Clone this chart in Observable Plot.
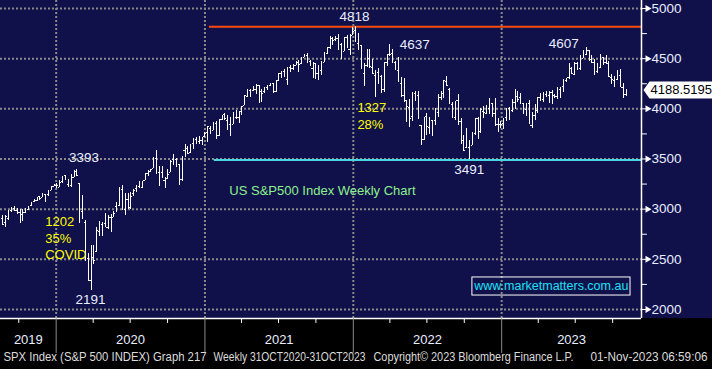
<!DOCTYPE html>
<html><head><meta charset="utf-8">
<script src="https://cdn.jsdelivr.net/npm/d3@7"></script>
<script src="https://cdn.jsdelivr.net/npm/@observablehq/plot@0.6"></script>
<style>
html,body{margin:0;padding:0;background:#000;}
#chart svg{display:block;}
</style></head><body><div id="chart"></div>
<script>
// Weekly bars, first week ending 2019-08-23 (one bar per week)
const firstWeek = "2019-08-23";
const weekOpen = [
  2911,2866,2910,2988,3003,2983,2968,2944,2965,2996,3032,3078,3087,3123,3117,3143,3146,3183,3227,
  3240,3218,3273,3334,3248,3236,3318,3380,3257,2974,2864,2509,2291,2514,2578,2782,2845,2855,2815,2915,2913,3025,3038,3199,2993,3094,3018,3155,3205,3224,3219,3289,3357,3380,3410,3507,3370,3367,3285,3310,3365,3493,3493,3441,3296,3583,3600,3566,3653,3699,3675,3684,3723,
  3764,3803,3788,3855,3731,3892,3939,3885,3842,3844,3913,3917,3969,4034,4124,4185,4186,4192,4228,4169,4168,4216,4229,4248,4173,4285,4356,4373,4297,4410,4406,4437,4461,4450,4513,4536,4474,4402,4450,4348,4386,4464,4553,4610,4699,4689,4700,4640,4572,4714,4587,4733,
  4778,4655,4632,4356,4431,4506,4412,4332,4363,4323,4188,4462,4541,4547,4462,4385,4255,4130,4081,4013,3920,4149,4134,3838,3696,3920,3815,3880,3883,3966,4113,4155,4269,4195,4041,3910,4083,3875,3682,3610,3612,3638,3754,3901,3778,3978,3956,4005,4052,3955,3844,3843,
  3853,3911,3999,3979,4068,4120,4116,4049,3992,4055,3835,3933,3986,4109,4098,4139,4134,4167,4136,4126,4190,4220,4282,4308,4405,4345,4450,4405,4505,4543,4578,4492,4463,4377,4415,4510,4464,4454,4317,4284,4289,4332,4210,4140
];
const weekHigh = [
  2939,2940,2985,3021,3022,3002,2993,2993,3008,3027,3067,3097,3120,3127,3154,3150,3183,3226,3248,
  3259,3282,3330,3338,3294,3348,3386,3393,3260,3137,2882,2553,2637,2641,2818,2879,2871,2955,2933,2945,2980,3068,3212,3233,3155,3155,3166,3198,3240,3280,3279,3352,3387,3399,3510,3588,3426,3428,3320,3397,3485,3549,3502,3441,3521,3646,3628,3645,3700,3712,3726,3711,3760,
  3826,3823,3861,3870,3894,3937,3950,3932,3915,3960,3983,3975,4020,4129,4191,4195,4219,4238,4237,4188,4214,4234,4249,4256,4286,4355,4372,4393,4415,4429,4440,4469,4480,4513,4546,4549,4486,4465,4455,4429,4475,4559,4608,4718,4714,4718,4744,4652,4713,4731,4741,4808,
  4818,4749,4632,4453,4595,4590,4489,4385,4402,4333,4465,4546,4637,4593,4471,4513,4309,4307,4081,4091,4158,4177,4169,3838,3913,3950,3918,3880,3999,4141,4168,4280,4325,4204,4061,4076,4140,3907,3737,3807,3685,3762,3906,3912,4001,4028,4034,4101,4052,4101,3906,3873,
  3906,4003,4015,4095,4195,4176,4156,4050,4055,4079,3963,4039,4110,4148,4163,4170,4170,4186,4143,4212,4213,4290,4299,4448,4408,4458,4457,4528,4578,4607,4584,4527,4491,4448,4541,4514,4527,4467,4338,4324,4385,4393,4255,4194
];
const weekLow = [
  2835,2822,2891,2964,2978,2946,2856,2874,2953,2991,3024,3070,3078,3091,3115,3070,3124,3183,3224,
  3210,3214,3252,3281,3214,3214,3317,3328,2855,2901,2478,2281,2191,2447,2563,2728,2727,2817,2797,2767,2913,2969,3031,2984,2935,3004,2999,3127,3168,3201,3201,3284,3327,3363,3401,3350,3230,3313,3209,3297,3361,3440,3415,3234,3280,3512,3543,3556,3594,3645,3647,3636,3715,
  3663,3749,3781,3694,3725,3885,3884,3789,3723,3844,3894,3853,3934,4030,4118,4118,4172,4142,4057,4062,4156,4186,4218,4165,4165,4272,4305,4321,4233,4360,4387,4429,4367,4440,4509,4458,4427,4305,4288,4278,4329,4459,4537,4596,4631,4672,4585,4495,4572,4600,4531,4733,
  4662,4582,4396,4222,4414,4401,4339,4115,4239,4157,4162,4424,4517,4451,4381,4268,4118,4062,3859,3811,3875,4074,3901,3637,3684,3739,3742,3722,3831,3913,4080,4108,4218,4058,3907,3887,3838,3647,3584,3604,3491,3636,3735,3698,3751,3906,3945,3940,3918,3828,3764,3800,
  3794,3878,3886,3961,3990,4060,4047,3943,3928,3847,3809,3885,3949,4069,4068,4114,4049,4048,4099,4098,4103,4166,4261,4296,4341,4328,4385,4385,4503,4527,4469,4450,4335,4356,4403,4430,4449,4316,4238,4216,4283,4223,4104,4126
];
const weekClose = [
  2847,2926,2979,3007,2992,2962,2952,2970,2986,3023,3067,3093,3120,3110,3141,3146,3169,3221,3240,
  3235,3265,3330,3295,3226,3328,3380,3338,2954,2972,2711,2305,2541,2489,2790,2875,2837,2831,2930,2864,2955,3044,3194,3041,3098,3009,3130,3185,3225,3216,3271,3351,3373,3397,3508,3427,3341,3319,3298,3348,3477,3483,3465,3270,3509,3585,3558,3638,3699,3663,3709,3703,3756,
  3825,3768,3841,3714,3886,3934,3907,3811,3842,3943,3913,3975,4020,4129,4185,4180,4181,4233,4174,4156,4204,4230,4247,4166,4281,4352,4370,4327,4412,4395,4437,4468,4442,4509,4535,4459,4433,4455,4357,4391,4471,4545,4605,4697,4683,4698,4595,4538,4712,4620,4725,4766,
  4677,4662,4398,4432,4501,4419,4349,4385,4329,4204,4463,4543,4546,4488,4393,4272,4132,4123,4024,3901,4158,4109,3901,3675,3912,3825,3899,3863,3962,4130,4145,4280,4228,4058,3924,4067,3873,3693,3586,3640,3583,3752,3901,3771,3993,3965,4026,4072,3934,3852,3845,3840,
  3895,3999,3973,4071,4136,4090,4079,3970,4046,3862,3917,3971,4109,4105,4138,4133,4169,4136,4124,4192,4205,4282,4299,4410,4348,4450,4399,4505,4536,4582,4478,4464,4370,4406,4515,4457,4450,4320,4288,4309,4327,4224,4117,4188.52
];
const lastPriceText = "4188.5195";

const yMajorTicks = [2000, 2500, 3000, 3500, 4000, 4500, 5000];
const yMinorTicks = [2250, 2750, 3250, 3750, 4250, 4750];
const yearLabels = ["2019", "2020", "2021", "2022", "2023"];
const yearStarts = ["2020-01-01", "2021-01-01", "2022-01-01", "2023-01-01"];
const quarterTicks = ["2019-10-01","2020-04-01","2020-07-01","2020-10-01","2021-04-01","2021-07-01","2021-10-01",
  "2022-04-01","2022-07-01","2022-10-01","2023-04-01","2023-07-01","2023-10-01"];

const levelHigh = 4818, levelLow = 3491;
const peakDates = ["2022-01-04", "2022-03-29", "2023-07-27", "2022-10-13", "2020-02-19", "2020-03-23"];
const peakValues = [4818, 4637, 4607, 3491, 3393, 2191];

const covidNote = "1202\n35%\nCOVID";
const bearNote = "1327\n28%";
const chartTitle = "US S&P500 Index Weekly Chart";
const website = "www.marketmatters.com.au";
const footerParts = ["SPX Index (S&P 500 INDEX) Graph 217", "Weekly 31OCT2020-31OCT2023",
  "Copyright\u00A9 2023 Bloomberg Finance L.P.", "01-Nov-2023 06:59:06"];

// ---- build ----
const D = s => new Date(s + "T00:00:00Z");
const DAY = 864e5;
const start = D(firstWeek);
const bars = weekClose.map((c, i) => ({
  date: new Date(start.getTime() + i * 7 * DAY),
  open: weekOpen[i], high: weekHigh[i], low: weekLow[i], close: c
}));
const xDomain = [D("2019-08-17"), D("2023-12-11")];
const yDomain = [1910, 5080];

const yrLabelData = yearLabels.map(l => {
  const a = Math.max(D(l + "-01-01").getTime(), xDomain[0].getTime());
  const b = Math.min(D((+l + 1) + "-01-01").getTime(), xDomain[1].getTime());
  return {label: l, x: new Date((a + b) / 2)};
});
const peaks = peakDates.map((d, i) => ({date: D(d), value: peakValues[i], text: String(peakValues[i])}));

const navy = "#10104a";
const font = "Liberation Sans, Arial, sans-serif";
const lightText = "#e8eeff";
const gridStyle = {stroke: "#8a8a8a", strokeWidth: 2, strokeDasharray: "2,2"};
const tickShape = {draw(context, l) { context.moveTo(0, 0); context.lineTo(0, -l); }};
const tagSymbol = {draw(context) {
  context.moveTo(0, 0); context.lineTo(6, -8.5); context.lineTo(80, -8.5);
  context.lineTo(80, 8.5); context.lineTo(6, 8.5); context.closePath();
}};

const pk = (i, opts) => Plot.text([peaks[i]], {x: "date", y: "value", text: "text", fill: lightText, fontSize: 13.5, fontFamily: font, ...opts});
const footerStyle = {text: d => d, frameAnchor: "bottom-left", dy: 42, fill: "#dcdcdc", fontSize: 12, fontFamily: font};
const footerWidths = [203, 152, 200, 117];

const chart = Plot.plot({
  width: 712, height: 369,
  marginLeft: 0, marginRight: 71, marginTop: 0, marginBottom: 51,
  style: {background: `linear-gradient(to bottom, ${navy} 0px, ${navy} 318px, #000 318px)`, color: "white", fontFamily: font},
  x: {type: "utc", domain: xDomain, axis: null},
  y: {domain: yDomain, axis: null},
  marks: [
    Plot.ruleY(yMajorTicks, {y: d => d, ...gridStyle}),
    Plot.ruleX(yearStarts, {x: d => D(d), ...gridStyle}),
    Plot.ruleY([levelHigh], {y: d => d, x1: D("2021-01-12"), x2: xDomain[1], stroke: "#ff4a10", strokeWidth: 2}),
    Plot.ruleY([levelLow], {y: d => d, x1: D("2021-01-24"), x2: xDomain[1], stroke: "#4ad6e4", strokeWidth: 2}),
    // OHLC bars
    Plot.ruleX(bars, {x: "date", y1: "low", y2: "high", stroke: "white", strokeWidth: 1, shapeRendering: "crispEdges"}),
    Plot.ruleY(bars, {y: "open", x1: d => new Date(d.date.getTime() - 3 * DAY), x2: "date", stroke: "white", strokeWidth: 1, shapeRendering: "crispEdges"}),
    Plot.ruleY(bars, {y: "close", x1: "date", x2: d => new Date(d.date.getTime() + 3 * DAY), stroke: "white", strokeWidth: 1, shapeRendering: "crispEdges"}),
    // frame lines
    Plot.ruleY([yDomain[0]], {y: d => d, stroke: "white", strokeWidth: 1.5}),
    Plot.ruleX([xDomain[1]], {x: d => d, stroke: "white", strokeWidth: 1.5}),
    // right axis
    Plot.vector(yMinorTicks, {y: d => d, frameAnchor: "right", length: 5, rotate: 90, anchor: "start", shape: tickShape, stroke: "white", strokeWidth: 1}),
    Plot.axisY({ticks: yMajorTicks, anchor: "right", tickSize: 5, tickPadding: 5, tickFormat: d => String(d), stroke: "white", fill: lightText, fontSize: 13.5, fontFamily: font}),
    Plot.dot(yMajorTicks, {y: d => d, frameAnchor: "right", dx: 6, symbol: "triangle", r: 2.6, rotate: 90, fill: "white", stroke: null}),
    // bottom axis
    Plot.vector(quarterTicks, {x: d => D(d), frameAnchor: "bottom", length: 4, rotate: 180, anchor: "start", shape: tickShape, stroke: "white", strokeWidth: 1}),
    Plot.vector(yearStarts, {x: d => D(d), frameAnchor: "bottom", length: 34, rotate: 180, anchor: "start", shape: tickShape, stroke: "#8a8a8a", strokeWidth: 1}),
    Plot.text(yrLabelData, {x: "x", text: "label", frameAnchor: "bottom", dy: 25, fill: lightText, fontSize: 13, fontFamily: font}),
    // footer
    Plot.text([footerParts[0]], {...footerStyle, dx: 3, textAnchor: "start"}),
    Plot.text([footerParts[1]], {...footerStyle, dx: 213, textAnchor: "start"}),
    Plot.text([footerParts[2]], {...footerStyle, dx: 373, textAnchor: "start"}),
    Plot.text([footerParts[3]], {...footerStyle, dx: 707, textAnchor: "end"}),
    // annotations
    pk(0, {dy: -10}),
    pk(1, {dx: 11, textAnchor: "start"}),
    pk(2, {dx: -7, dy: -4, textAnchor: "end"}),
    pk(3, {dy: 10}),
    pk(4, {dx: 8, dy: -12}),
    pk(5, {dx: 1, dy: 9}),
    Plot.text([covidNote], {text: d => d, x: D("2019-12-05"), y: 2717, textAnchor: "start", lineHeight: 1.28, fill: "#ffff00", fontSize: 13, fontFamily: font}),
    Plot.text([bearNote], {text: d => d, x: D("2022-01-11"), y: 3934, textAnchor: "start", lineHeight: 1.28, fill: "#ffff00", fontSize: 13, fontFamily: font}),
    Plot.text([chartTitle], {text: d => d, x: D("2021-03-02"), y: 3181, textAnchor: "start", fill: "#8ef08e", fontSize: 13, fontFamily: font}),
    Plot.rect([website], {x1: D("2022-10-21"), x2: D("2023-11-14"), y1: 2139, y2: 2319, fill: "none", stroke: "white", strokeWidth: 1}),
    Plot.text([website], {text: d => d, x: D("2023-05-03"), y: 2229, fill: "#1ee0f5", fontSize: 12.5, fontFamily: font}),
    // last price tag
    Plot.dot([weekClose[weekClose.length - 1]], {y: d => d, frameAnchor: "right", dx: 2, symbol: tagSymbol, fill: "white", stroke: null}),
    Plot.text([lastPriceText], {text: d => d, y: () => weekClose[weekClose.length - 1], frameAnchor: "right", dx: 9, textAnchor: "start", fill: "#000", fontSize: 13, fontFamily: font})
  ]
});
document.getElementById("chart").appendChild(chart);
const svg = d3.select(chart);
footerParts.forEach((part, i) => {
  svg.selectAll("text").filter(function(){ return this.textContent === part; })
    .attr("textLength", footerWidths[i]).attr("lengthAdjust", "spacingAndGlyphs");
});
</script>
</body></html>
